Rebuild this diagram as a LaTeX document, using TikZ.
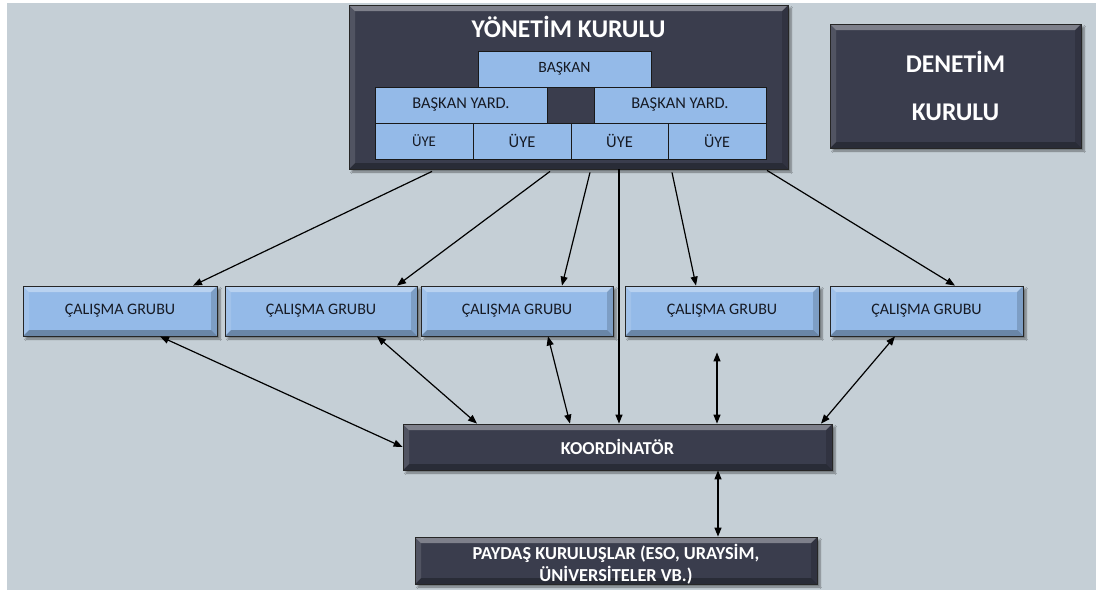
\documentclass[tikz,border=0pt]{standalone}
\usepackage{fontspec}
\setmainfont{Carlito}
\usetikzlibrary{arrows.meta,shadows.blur}
\definecolor{bgc}{RGB}{197,207,214}
\definecolor{darkbox}{RGB}{58,61,77}
\definecolor{bluebox}{RGB}{148,186,232}
\definecolor{txtdark}{RGB}{22,26,36}
\tikzset{
  bevel/.style={path picture={
    \coordinate (pNW) at (path picture bounding box.north west);
    \coordinate (pNE) at (path picture bounding box.north east);
    \coordinate (pSW) at (path picture bounding box.south west);
    \coordinate (pSE) at (path picture bounding box.south east);
    \fill[white,opacity=.35] (pNW) -- (pNE) -- ([xshift=-6pt,yshift=-6pt]pNE) -- ([xshift=6pt,yshift=-6pt]pNW) -- cycle;
    \fill[black,opacity=.28] (pSW) -- (pSE) -- ([xshift=-6pt,yshift=6pt]pSE) -- ([xshift=6pt,yshift=6pt]pSW) -- cycle;
    \fill[black,opacity=.15] (pNE) -- (pSE) -- ([xshift=-6pt,yshift=6pt]pSE) -- ([xshift=-6pt,yshift=-6pt]pNE) -- cycle;
    \fill[white,opacity=.12] (pNW) -- (pSW) -- ([xshift=6pt,yshift=6pt]pSW) -- ([xshift=6pt,yshift=-6pt]pNW) -- cycle;
  }},
  shad/.style={blur shadow={shadow xshift=3pt,shadow yshift=-3pt,shadow blur steps=6,shadow opacity=45}},
  darkbig/.style={draw=black!85,line width=0.8pt,fill=darkbox,inner sep=0pt,bevel,shad,text=white,font=\bfseries},
  groupbox/.style={draw=black!85,line width=0.8pt,fill=bluebox,inner sep=0pt,bevel,shad,text=txtdark,minimum width=193pt,minimum height=50pt,font=\fontsize{16}{19}\selectfont},
  cell/.style={draw=black!90,line width=0.6pt,fill=bluebox,inner sep=0pt,text=txtdark,minimum height=36pt},
  conn/.style={line width=1.2pt,draw=black,-{Triangle[length=9pt,width=7pt]}},
  biconn/.style={line width=1.2pt,draw=black,{Triangle[length=9pt,width=7pt]}-{Triangle[length=9pt,width=7pt]}},
  whitetext/.style={text=white,inner sep=0pt,align=center}
}
\begin{document}
\begin{tikzpicture}[x=1pt,y=-1pt]
\useasboundingbox (0,0) rectangle (1096,590);
\fill[white] (0,0) rectangle (1096,590);
\fill[bgc] (7,3) rectangle (1096,590);

% top box
\node[darkbig,minimum width=439pt,minimum height=164pt] (yk) at (568.5,87) {};
\node[whitetext,font=\bfseries\fontsize{25.5}{30}\selectfont] (ykt) at (568.5,27) {YÖNETİM KURULU};
\node[cell,minimum width=173pt,font=\fontsize{15.7}{18}\selectfont] (bsk) at (564.5,69) {BAŞKAN};
\node[cell,minimum width=172pt,font=\fontsize{16.4}{19}\selectfont] (byl) at (461,105) {BAŞKAN YARD.};
\node[cell,minimum width=172pt,font=\fontsize{16.4}{19}\selectfont] (byr) at (680,105) {BAŞKAN YARD.};
\node[cell,minimum width=98pt,font=\fontsize{14.8}{17}\selectfont] (u1) at (424,141) {ÜYE};
\node[cell,minimum width=98pt,font=\fontsize{16.5}{19}\selectfont] (u2) at (522,141) {ÜYE};
\node[cell,minimum width=97pt,font=\fontsize{16.5}{19}\selectfont] (u3) at (619.5,141) {ÜYE};
\node[cell,minimum width=98pt,font=\fontsize{16}{19}\selectfont] (u4) at (717,141) {ÜYE};

% denetim
\node[darkbig,minimum width=251pt,minimum height=124pt,align=center,font=\bfseries\fontsize{25.5}{48}\selectfont] (dk) at (955.5,86) {DENETİM\\KURULU};

% groups
\node[groupbox,minimum width=194pt] (g1) at (120,311) {ÇALIŞMA GRUBU};
\node[groupbox,minimum width=192pt] (g2) at (321,311) {ÇALIŞMA GRUBU};
\node[groupbox,minimum width=192pt] (g3) at (517,311) {ÇALIŞMA GRUBU};
\node[groupbox,minimum width=194pt] (g4) at (722,311) {ÇALIŞMA GRUBU};
\node[groupbox,minimum width=193pt] (g5) at (926.5,311) {ÇALIŞMA GRUBU};

% coordinator and stakeholders
\node[darkbig,minimum width=429pt,minimum height=46pt,font=\bfseries\fontsize{18.2}{21}\selectfont] (ko) at (617.5,447) {KOORDİNATÖR};
\node[darkbig,minimum width=402pt,minimum height=47pt] (pk) at (616,560.5) {};
\node[whitetext,font=\bfseries\fontsize{18.3}{22}\selectfont] (pkt) at (616,564) {PAYDAŞ KURULUŞLAR (ESO, URAYSİM,\\ÜNİVERSİTELER VB.)};

% arrows from board to groups
\draw[conn] ([xshift=-136.5pt,yshift=-2pt]yk.south) -- ([xshift=73pt]g1.north);
\draw[conn] ([xshift=-18.5pt,yshift=-2pt]yk.south) -- ([xshift=76pt]g2.north);
\draw[conn] ([xshift=21.5pt,yshift=-3pt]yk.south) -- ([xshift=45pt]g3.north);
\draw[conn] ([xshift=103.5pt,yshift=-3pt]yk.south) -- ([xshift=-26pt]g4.north);
\draw[conn] ([xshift=198.5pt,yshift=-1pt]yk.south) -- ([xshift=28.5pt]g5.north);
\draw[conn] ([xshift=50.5pt]yk.south) -- ([xshift=50.5pt]yk.south |- ko.north);

% groups <-> coordinator
\draw[biconn] ([xshift=40pt]g1.south) -- (ko.west);
\draw[biconn] ([xshift=56pt]g2.south) -- ([xshift=-140.5pt]ko.north);
\draw[biconn] ([xshift=31pt]g3.south) -- ([xshift=-47.5pt]ko.north);
\coordinate (d4) at ([xshift=-5pt,yshift=-16pt]g4.south);
\draw[biconn] (d4) -- (d4 |- ko.north);
\draw[biconn] ([xshift=-31.5pt]g5.south) -- ([xshift=203.5pt]ko.north);

% coordinator <-> stakeholders
\draw[biconn] ([xshift=100.5pt]ko.south) -- ([xshift=100.5pt]ko.south |- pk.north);
\end{tikzpicture}
\end{document}
